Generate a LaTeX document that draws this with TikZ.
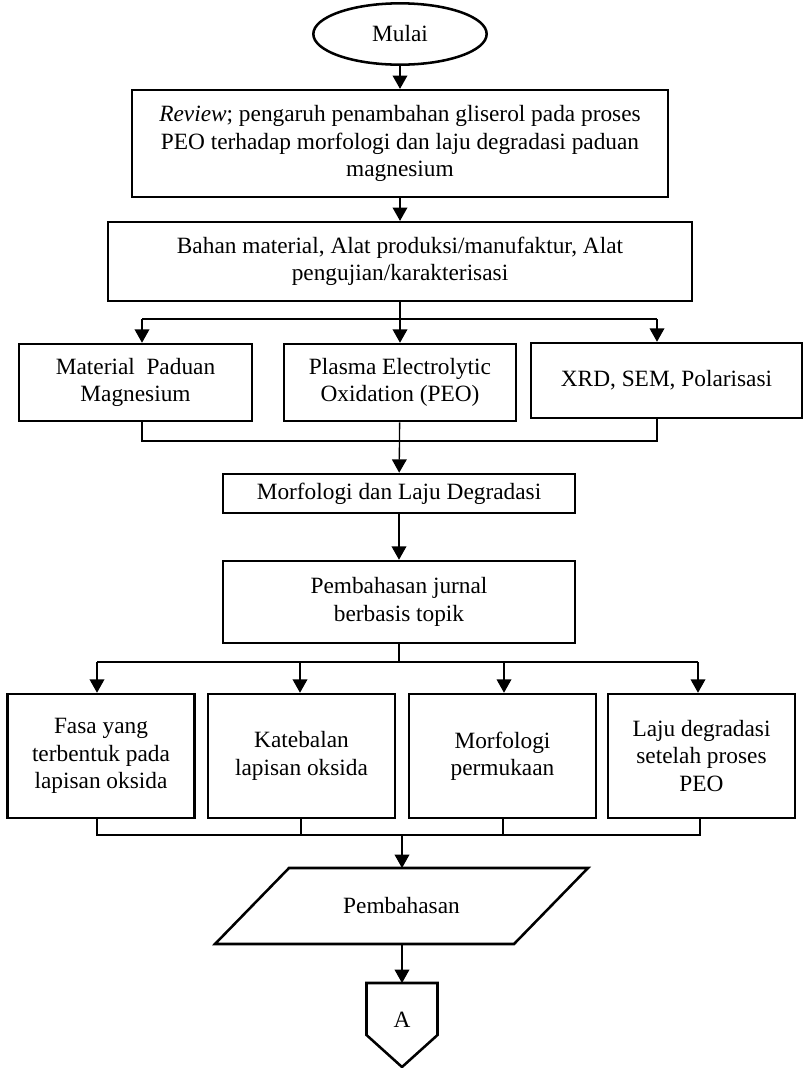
\documentclass[tikz,border=0pt]{standalone}
\usepackage{fontspec}
\setmainfont{Liberation Serif}
\usetikzlibrary{arrows.meta,positioning,shapes.geometric}

\begin{document}
\begin{tikzpicture}[x=.75pt,y=-.75pt,
    boxstyle/.style={draw,line width=1.9pt,align=center,inner sep=2pt,font=\fontsize{17.5}{20.6}\selectfont},
    linkstyle/.style={line width=1pt},
    arrowstyle/.style={line width=1pt,-{Triangle[width=11pt,length=10pt]}}]
  \useasboundingbox (0,0) rectangle (804,1068);
  % awal dan tinjauan
  \node[boxstyle,ellipse,minimum width=130pt,minimum height=46pt] (mulai) at (400,34) {Mulai};
  \node[boxstyle,minimum width=402pt,minimum height=80pt] (review) at (400,143.5) {\textit{Review}; pengaruh penambahan gliserol pada proses\\PEO terhadap morfologi dan laju degradasi paduan\\magnesium};
  \node[boxstyle,minimum width=438pt,minimum height=59pt] (bahan) at (400,261.5) {Bahan material, Alat produksi/manufaktur, Alat\\pengujian/karakterisasi};
  % tiga cabang
  \node[boxstyle,minimum width=174.75pt,minimum height=57.75pt] (mat) at (135.5,382.5) {Material\ \ Paduan\\Magnesium};
  \node[boxstyle,minimum width=174pt,minimum height=57.75pt] (peo) at (400,382.5) {Plasma Electrolytic\\Oxidation (PEO)};
  \node[boxstyle,minimum width=203.25pt,minimum height=56.25pt] (uji) at (666.5,380.5) {XRD, SEM, Polarisasi};
  \node[boxstyle,minimum width=264pt,minimum height=29.25pt] (morf) at (399,493.5) {Morfologi dan Laju Degradasi};
  \node[boxstyle,minimum width=264pt,minimum height=61.5pt] (jurnal) at (399,602) {Pembahasan jurnal\\berbasis topik};
  % empat topik
  \node[boxstyle,minimum width=140pt,minimum height=93pt] (fasa) at (101,756) {Fasa yang\\terbentuk pada\\lapisan oksida};
  \node[boxstyle,minimum width=140pt,minimum height=93pt] (tebal) at (301.5,756) {Katebalan\\lapisan oksida};
  \node[boxstyle,minimum width=140pt,minimum height=93pt] (permukaan) at (502.5,756) {Morfologi\\permukaan};
  \node[boxstyle,minimum width=140pt,minimum height=93pt] (laju) at (701.5,756) {Laju degradasi\\setelah proses\\PEO};
  % pembahasan dan penghubung
  \node[font=\fontsize{17.5}{20.6}\selectfont,inner sep=0pt,outer sep=0pt,minimum width=224.25pt,minimum height=57pt] (bahas) at (401.5,906) {Pembahasan};
  \draw[line width=1.9pt] ([xshift=27.75pt]bahas.north west) -- ([xshift=27.75pt]bahas.north east) -- ([xshift=-27.75pt]bahas.south east) -- ([xshift=-27.75pt]bahas.south west) -- cycle;
  \node[font=\fontsize{17.5}{20.6}\selectfont,inner sep=0pt,outer sep=0pt,minimum width=53.25pt,minimum height=55.5pt] (konA) at (402,1020) {A};
  \draw[line width=1.9pt] (konA.north west) -- (konA.north east) -- ++(0,52) -- ++(-35.5,32) -- ++(-35.5,-32) -- cycle;

  \coordinate (a0) at (400,319);
  \coordinate (a1) at (142,319);
  \coordinate (a3) at (657,319);
  \coordinate (b1) at (142,441);
  \coordinate (b3) at (657,441);
  \coordinate (c1) at (97,662);
  \coordinate (c2) at (300,662);
  \coordinate (c3) at (504,662);
  \coordinate (c4) at (698,662);
  \coordinate (d1) at (97,835);
  \coordinate (d2) at (301,835);
  \coordinate (d3) at (503,835);
  \coordinate (d4) at (700,835);
  \coordinate (d0) at (402,835);

  \draw[arrowstyle] (mulai) -- (review);
  \draw[arrowstyle] (review) -- (bahan);
  \draw[linkstyle] (bahan) -- (a0);
  \draw[linkstyle] (a1) -- (a3);
  \draw[arrowstyle] (a1) -- (a1 |- mat.north);
  \draw[arrowstyle] (a0) -- (peo);
  \draw[arrowstyle] (a3) -- (a3 |- uji.north);
  \draw[linkstyle] (b1 |- mat.south) -- (b1) -- (b3) -- (b3 |- uji.south);
  \draw[arrowstyle] (peo) -- (morf);
  \draw[arrowstyle] (morf) -- (jurnal);
  \draw[linkstyle] (jurnal) -- (jurnal |- c1);
  \draw[linkstyle] (c1) -- (c4);
  \draw[arrowstyle] (c1) -- (c1 |- fasa.north);
  \draw[arrowstyle] (c2) -- (c2 |- tebal.north);
  \draw[arrowstyle] (c3) -- (c3 |- permukaan.north);
  \draw[arrowstyle] (c4) -- (c4 |- laju.north);
  \draw[linkstyle] (d1 |- fasa.south) -- (d1) -- (d4) -- (d4 |- laju.south);
  \draw[linkstyle] (d2 |- tebal.south) -- (d2);
  \draw[linkstyle] (d3 |- permukaan.south) -- (d3);
  \draw[arrowstyle] (d0) -- (d0 |- bahas.north);
  \draw[arrowstyle] (d0 |- bahas.south) -- (konA);
\end{tikzpicture}
\end{document}
